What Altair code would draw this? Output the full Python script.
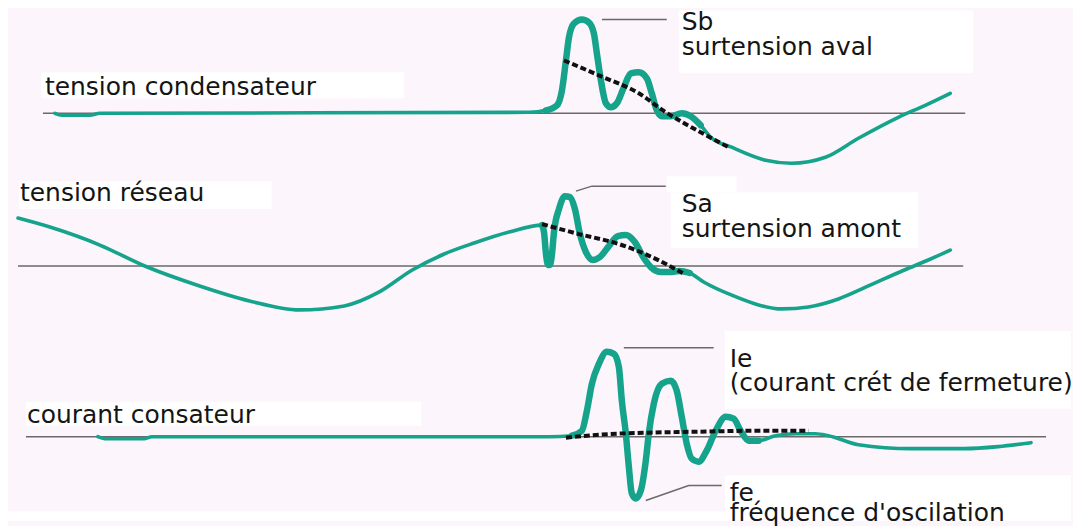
import altair as alt
import pandas as pd

TEAL = "#16A38C"
GREY = "#6a6a6a"
FONT = "DejaVu Sans"

# ---------------- Panel 1 : tension condensateur ----------------
c1_t = [55, 62, 90, 100, 530, 547, 558, 563, 567, 570, 575, 583, 590, 595, 598, 602, 607, 612, 618, 625,
        632, 640, 648, 653, 658, 663, 672, 683, 692, 702, 712, 733, 767, 793, 827, 860, 900, 927, 952]
c1_v = [0, -2, -2, 0, 1, 3, 8, 23, 53, 76, 90, 94, 91, 80, 60, 33, 10, 6, 10, 26,
        40, 41, 35, 20, 3, -3, -3, 0, -3, -12, -24, -34, -47, -50, -44, -25, -4, 8, 20]
d1_t = [565, 600, 640, 667, 700, 730]
d1_v = [53, 38, 20, 1, -18, -34]
l1_id = [1, 1]
l1_t = [603, 668]
l1_v = [94, 94]
txt1 = ["tension condensateur", "Sb", "surtension aval"]
txt1_t = [45, 683, 683]
txt1_v = [18, 83, 58]
box1_t1 = [41, 680]
box1_t2 = [405, 975]
box1_v1 = [15, 40]
box1_v2 = [41, 103]

# ---------------- Panel 2 : tension réseau ----------------
c2_t = [18, 50, 100, 145, 200, 250, 300, 345, 380, 413, 445, 475, 510, 543, 545, 547, 549, 551, 553, 555,
        560, 566, 571, 576, 581, 587, 594, 601, 610, 619, 627, 636, 645, 653, 662, 671, 681, 691, 705, 735,
        760, 783, 810, 840, 870, 906, 930, 952]
c2_v = [48, 39, 21, 0, -20, -35, -44, -40, -26, -4, 12, 23, 34, 41, 34, 12, 1, 1, 12, 34,
        57, 70, 69, 57, 32, 14, 6, 9, 20, 30, 31, 24, 8, -2, -6, -6, -5, -7, -16, -30,
        -39, -43, -41, -33, -20, -4, 6, 16]
d2_t = [543, 580, 620, 653, 684]
d2_v = [42, 32, 22, 9, -7]
l2_id = [1, 1, 1]
l2_t = [577, 593, 667]
l2_v = [75, 80, 80]
txt2 = ["tension réseau", "Sa", "surtension amont"]
txt2_t = [20, 683, 683]
txt2_v = [65, 54, 29]
box2_t1 = [19, 672, 668]
box2_t2 = [272, 920, 738]
box2_v1 = [57, 18, 74]
box2_v2 = [85, 74, 90]

# ---------------- Panel 3 : courant condensateur ----------------
c3_t = [98, 105, 145, 152, 550, 573, 583, 588, 593, 600, 608, 615, 620, 623, 627, 630, 633, 637, 642, 647,
        650, 655, 663, 672, 678, 683, 688, 693, 700, 708, 717, 727, 735, 742, 750, 760, 777, 797, 817, 830,
        860, 913, 966, 1000, 1033]
c3_v = [0, -2, -2, 0, 0, 1, 6, 26, 53, 73, 85, 83, 70, 36, 3, -30, -57, -62, -54, -24,
        3, 33, 53, 56, 46, 20, -7, -22, -25, -14, 6, 20, 18, 6, -4, -4, 1, 3, 3, 1,
        -8, -12, -12, -10, -6]
d3_t = [567, 600, 650, 700, 760, 810]
d3_v = [-1, 2, 4, 5, 6, 6]
l3_id = [1, 1, 2, 2, 2]
l3_t = [625, 715, 647, 690, 723]
l3_v = [89, 89, -64, -49, -49]
txt3 = ["courant consateur", "Ie", "(courant crét de fermeture)", "fe", "fréquence d'oscilation"]
txt3_t = [27, 731, 731, 731, 731]
txt3_v = [14, 70, 46, -64, -84]
box3_t1 = [26, 726, 726, 8]
box3_t2 = [422, 1073, 1073, 1073]
box3_v1 = [11, 28, -84, -84]
box3_v2 = [35, 106, -39, -75]

# baselines (start, end) of each panel
base_t1 = [43, 18, 26]
base_t2 = [967, 965, 1048]


def panel(ct, cv, thick, dt, dv, lid, lt, lv, tx, tt, tv, bt1, bt2, bv1, bv2, b0, b1, dom, h):
    xs = alt.Scale(domain=[8, 1073], nice=False, zero=False)
    ys = alt.Scale(domain=dom, nice=False, zero=False)
    curve = pd.DataFrame({"t": ct, "v": cv})
    dash = pd.DataFrame({"t": dt, "v": dv})
    lead = pd.DataFrame({"id": lid, "t": lt, "v": lv})
    texts = pd.DataFrame({"label": tx, "t": tt, "v": tv})
    boxes = pd.DataFrame({"t1": bt1, "t2": bt2, "v1": bv1, "v2": bv2})
    base = pd.DataFrame({"t1": [b0], "t2": [b1], "v": [0]})

    box_l = alt.Chart(boxes).mark_rect(color="white").encode(
        x=alt.X("t1:Q", scale=xs, axis=None), x2="t2",
        y=alt.Y("v1:Q", scale=ys, axis=None), y2="v2")
    base_l = alt.Chart(base).mark_rule(color=GREY, strokeWidth=1.6).encode(
        x=alt.X("t1:Q", scale=xs, axis=None), x2="t2",
        y=alt.Y("v:Q", scale=ys, axis=None))
    curve_l = alt.Chart(curve).mark_line(color=TEAL, strokeWidth=3.6, interpolate="monotone",
                                         strokeCap="round", strokeJoin="round").encode(
        x=alt.X("t:Q", scale=xs, axis=None), y=alt.Y("v:Q", scale=ys, axis=None))
    thick_l = alt.Chart(curve).transform_filter(
        (alt.datum.t >= thick[0]) & (alt.datum.t <= thick[1])
    ).mark_line(color=TEAL, strokeWidth=6.5, interpolate="monotone",
                strokeCap="round", strokeJoin="round").encode(
        x=alt.X("t:Q", scale=xs, axis=None), y=alt.Y("v:Q", scale=ys, axis=None))
    dash_l = alt.Chart(dash).mark_line(color="#111111", strokeWidth=4, strokeDash=[6, 3],
                                       interpolate="monotone").encode(
        x=alt.X("t:Q", scale=xs, axis=None), y=alt.Y("v:Q", scale=ys, axis=None))
    lead_l = alt.Chart(lead).mark_line(color=GREY, strokeWidth=1.5).encode(
        x=alt.X("t:Q", scale=xs, axis=None), y=alt.Y("v:Q", scale=ys, axis=None),
        detail="id:N")
    text_l = alt.Chart(texts).mark_text(align="left", baseline="alphabetic", font=FONT,
                                        fontSize=25, color="#151515").encode(
        x=alt.X("t:Q", scale=xs, axis=None), y=alt.Y("v:Q", scale=ys, axis=None),
        text="label:N")
    return alt.layer(box_l, base_l, curve_l, thick_l, dash_l, lead_l, text_l).properties(
        width=1065, height=h)


p1 = panel(c1_t, c1_v, (545, 705), d1_t, d1_v, l1_id, l1_t, l1_v, txt1, txt1_t, txt1_v,
           box1_t1, box1_t2, box1_v1, box1_v2, base_t1[0], base_t2[0], [-62, 105], 167)
p2 = panel(c2_t, c2_v, (543, 695), d2_t, d2_v, l2_id, l2_t, l2_v, txt2, txt2_t, txt2_v,
           box2_t1, box2_t2, box2_v1, box2_v2, base_t1[1], base_t2[1], [-58, 87], 145)
p3 = panel(c3_t, c3_v, (570, 765), d3_t, d3_v, l3_id, l3_t, l3_v, txt3, txt3_t, txt3_v,
           box3_t1, box3_t2, box3_v1, box3_v2, base_t1[2], base_t2[2], [-84, 113], 197)

chart = alt.vconcat(p1, p2, p3, spacing=0).properties(
    padding=0, background="#FCF5FC"
).configure_view(strokeWidth=0)

chart.save("out.html", embed_options={"renderer": "svg", "actions": False})
